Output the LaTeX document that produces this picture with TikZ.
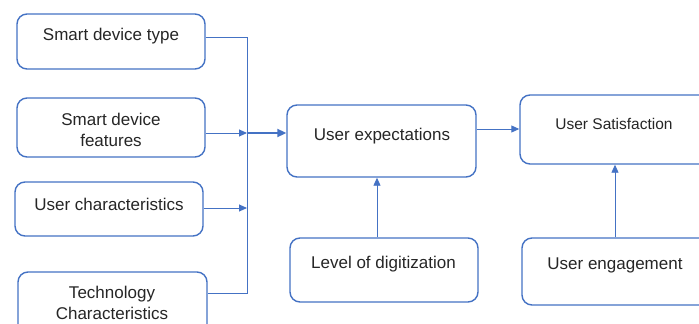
\documentclass[tikz,border=0pt]{standalone}
\usepackage{fontspec}
\setmainfont{Liberation Sans}
\usetikzlibrary{arrows.meta}
\definecolor{boxblue}{HTML}{4472C4}
\definecolor{inkgray}{HTML}{262626}
\tikzset{
  box/.style={draw=boxblue, line width=1.4pt, rounded corners=10pt, fill=white, inner sep=0pt},
  lbl/.style={text=inkgray, font=\fontsize{17}{21}\selectfont, align=center, inner sep=0pt},
  lblsmall/.style={lbl, font=\fontsize{15.5}{19}\selectfont},
  conn/.style={draw=boxblue, line width=0.9pt},
  arr/.style={conn, -{Triangle[length=8pt,width=7pt]}},
  thickarr/.style={draw=boxblue, line width=2pt, -{Triangle[length=9pt,width=8pt]}},
}
\begin{document}
\begin{tikzpicture}[x=1pt, y=-1pt]
\useasboundingbox (0,0) rectangle (699,324);
\clip (0,0) rectangle (699,324);

% input boxes on the left
\node[box, minimum width=188pt, minimum height=55pt] (sdt) at (111,41.5) {};
\node[box, minimum width=188pt, minimum height=59pt] (sdf) at (111,127.5) {};
\node[box, minimum width=188pt, minimum height=54pt] (uc)  at (109,209) {};
\node[box, minimum width=189pt, minimum height=63pt] (tc)  at (112.5,303.5) {};

% central and right boxes
\node[box, minimum width=189pt, minimum height=72pt] (ue)  at (381.5,141) {};
\node[box, minimum width=188pt, minimum height=64pt] (lod) at (384,270) {};
\node[box, minimum width=190pt, minimum height=69pt] (us)  at (615,129.5) {};
\node[box, minimum width=190pt, minimum height=67pt] (eng) at (617,271.5) {};

% labels
\node[lbl] (tsdt) at (111,36.5) {Smart device type};
\node[lbl] (tsdf) at (111,130) {Smart device\\features};
\node[lbl] (tuc)  at (109,204.5) {User characteristics};
\node[lbl] (ttc)  at (112,303) {Technology\\Characteristics};
\node[lbl] (tue)  at (382,136.5) {User expectations};
\node[lbl] (tlod) at (383.5,264.5) {Level of digitization};
\node[lblsmall] (tus) at (614,124) {User Satisfaction};
\node[lbl] (teng) at (615,265.5) {User engagement};

% collecting trunk
\coordinate (trunktop) at (247,37);
\coordinate (trunkbot) at (247,293);
\coordinate (merge) at (247,133);
\coordinate (ucin) at (247,208);

\draw[conn] ([yshift=4.5pt]sdt.east) -- (trunktop) -- (trunkbot) -- (tc.east |- trunkbot);
\draw[arr] ([yshift=-5.5pt]sdf.east) -- (merge);
\draw[arr] (uc.east |- ucin) -- (ucin);
\draw[thickarr] (merge) -- (ue.west |- merge);

% remaining connectors
\draw[arr] ([yshift=12pt]ue.east) -- (us.west |- 0,129);
\draw[arr] ([xshift=-7pt]lod.north) -- ([xshift=-7pt]lod.north |- ue.south);
\draw[arr] (eng.north -| 615,0) -- (us.south -| 615,0);
\end{tikzpicture}
\end{document}
